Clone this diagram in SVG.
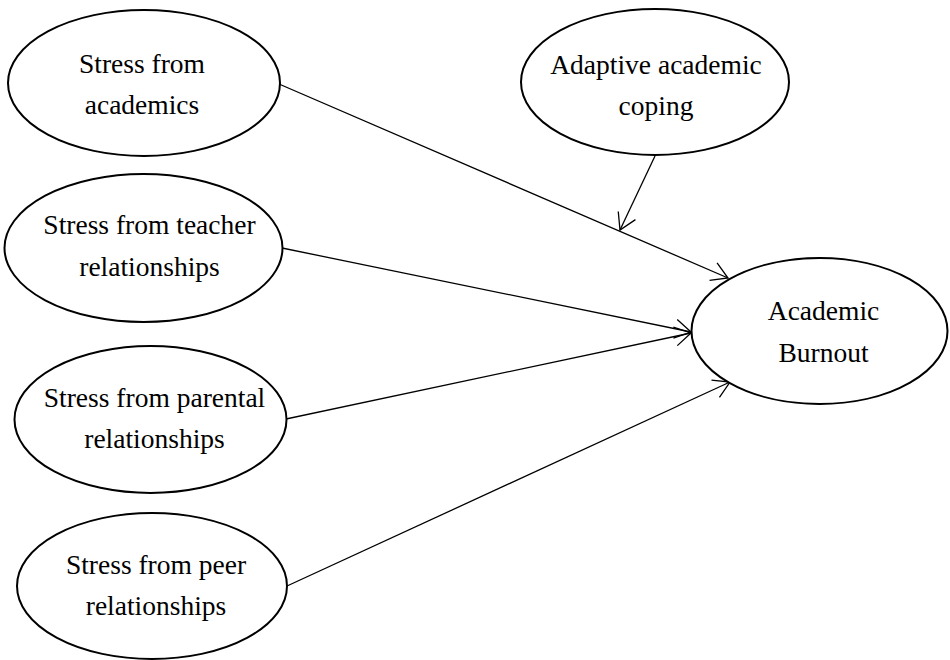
<svg xmlns="http://www.w3.org/2000/svg" width="950" height="660" viewBox="0 0 950 660">
<defs>
<style>
.node ellipse{fill:#fff;stroke:#000;stroke-width:2}
.node text{font-family:'Liberation Serif','Times New Roman','DejaVu Serif',serif;font-size:27.5px;fill:#000;text-anchor:middle}
.edges line{stroke:#000;stroke-width:1.3;fill:none;marker-end:url(#arr)}
</style>
<marker id="arr" markerUnits="userSpaceOnUse" markerWidth="40" markerHeight="40" viewBox="-20 -20 40 40" refX="0" refY="0" orient="auto" overflow="visible">
<path d="M-16,-9.5 L0,0 L-16,9.5" fill="none" stroke="#000" stroke-width="1.3"/>
</marker>
</defs>
<rect width="950" height="660" fill="#fff"/>
<g class="edges" id="connectors">
<line x1="279" y1="84" x2="728" y2="278"/>
<line x1="655" y1="156" x2="620" y2="230"/>
<line x1="282" y1="248" x2="691" y2="332"/>
<line x1="286" y1="419" x2="691" y2="333"/>
<line x1="287" y1="586" x2="730" y2="382"/>
</g>
<g class="node" id="n-academics" font-family="Liberation Serif, serif">
<ellipse cx="144" cy="83" rx="136" ry="73"/>
<text x="142" y="72.5">Stress from</text>
<text x="142" y="114">academics</text>
</g>
<g class="node" id="n-teacher" font-family="Liberation Serif, serif">
<ellipse cx="143.5" cy="248" rx="139" ry="74"/>
<text x="149.5" y="234">Stress from teacher</text>
<text x="149.5" y="276">relationships</text>
</g>
<g class="node" id="n-parental" font-family="Liberation Serif, serif">
<ellipse cx="150.5" cy="419.5" rx="136" ry="73.5"/>
<text x="154.5" y="407">Stress from parental</text>
<text x="154.5" y="448">relationships</text>
</g>
<g class="node" id="n-peer" font-family="Liberation Serif, serif">
<ellipse cx="152" cy="586" rx="135" ry="73"/>
<text x="156" y="574">Stress from peer</text>
<text x="156" y="615">relationships</text>
</g>
<g class="node" id="n-coping" font-family="Liberation Serif, serif">
<ellipse cx="655" cy="82" rx="134" ry="73"/>
<text x="656" y="73.5">Adaptive academic</text>
<text x="656" y="114.5">coping</text>
</g>
<g class="node" id="n-burnout" font-family="Liberation Serif, serif">
<ellipse cx="819.5" cy="331" rx="128" ry="73"/>
<text x="823.5" y="320">Academic</text>
<text x="823.5" y="362">Burnout</text>
</g>
</svg>
